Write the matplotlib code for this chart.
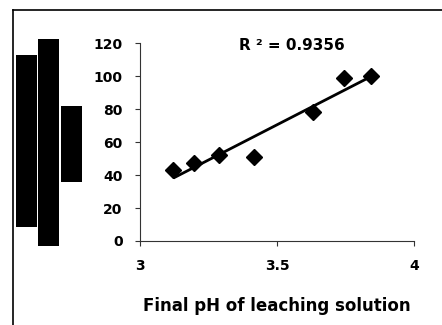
import matplotlib.pyplot as plt
import numpy as np
from matplotlib.patches import Rectangle
from matplotlib.lines import Line2D

# data
ph = [3.122, 3.197, 3.287, 3.414, 3.630, 3.742, 3.843]
value = [43.3, 47.2, 52.0, 51.2, 78.3, 99.2, 100.2]
r2_text = "R \u00b2 = 0.9356"
xlabel = "Final pH of leaching solution"
xticks = [3, 3.5, 4]
xticklabels = ["3", "3.5", "4"]
yticks = [0, 20, 40, 60, 80, 100, 120]

W, H = 442, 325
fig = plt.figure(figsize=(W / 100, H / 100), dpi=100)
ax = fig.add_axes([140 / W, 1 - 241 / H, (414.3 - 140) / W, (241 - 43.3) / H])

# linear trend line
k, b = np.polyfit(ph, value, 1)
xs = np.array([min(ph), max(ph)])
ax.plot(xs, k * xs + b, color='black', lw=2.0, solid_capstyle='butt', zorder=2)
ax.plot(ph, value, 'D', color='black', ms=8.2, zorder=3)

ax.set_xlim(3, 4)
ax.set_ylim(0, 120)
ax.set_xticks(xticks)
ax.set_xticklabels(xticklabels)
ax.set_yticks(yticks)
for s in ['top', 'right']:
    ax.spines[s].set_visible(False)
for s in ['left', 'bottom']:
    ax.spines[s].set_linewidth(0.8)
    ax.spines[s].set_color('#333333')
ax.tick_params(direction='out', length=3.6, width=0.8, color='#333333')
ax.tick_params(axis='x', pad=9.5)
ax.tick_params(axis='y', pad=9)
for lab in ax.get_xticklabels() + ax.get_yticklabels():
    lab.set_fontfamily('DejaVu Sans')
    lab.set_fontweight('bold')
    lab.set_fontsize(10)

ax.set_xlabel(xlabel, family='DejaVu Sans', weight='bold', fontsize=12, labelpad=17)
ax.text(3.555, 118.8, r2_text, ha='center', va='center', family='DejaVu Sans',
        weight='bold', fontsize=11, clip_on=False)

# outer frame (top and left edges only visible)
fig.add_artist(Line2D([12.5 / W, 1], [1 - 9.5 / H, 1 - 9.5 / H], color='black', lw=1.2))
fig.add_artist(Line2D([12.5 / W, 12.5 / W], [1 - 9.5 / H, 0], color='black', lw=1.2))

# black blocks covering the y-axis title
blocks = [(16, 55, 36.7, 226.7), (38.3, 39, 59, 245.7), (61, 106, 81.7, 181.7)]
for x0, y0, x1, y1 in blocks:
    fig.add_artist(Rectangle((x0 / W, 1 - y1 / H), (x1 - x0) / W, (y1 - y0) / H,
                             color='black', lw=0))

fig.savefig('out.png', dpi=100)
